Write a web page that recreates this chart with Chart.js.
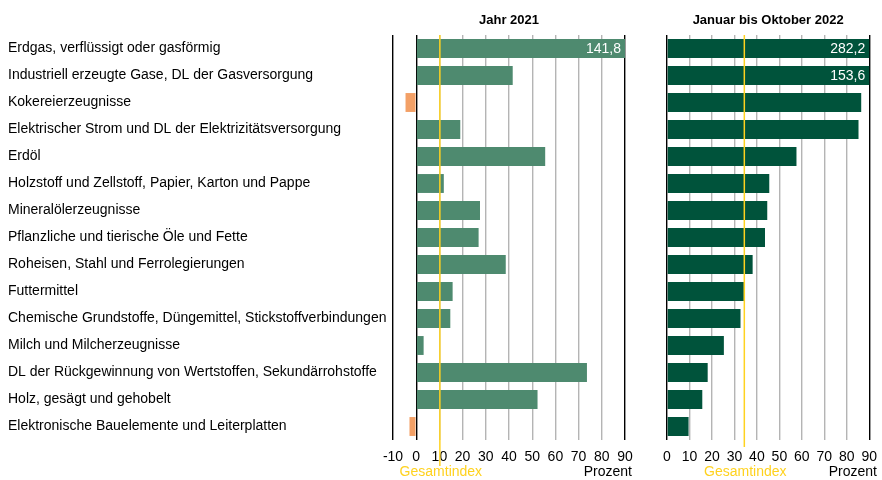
<!DOCTYPE html>
<html>
<head>
<meta charset="utf-8">
<script src="https://cdn.jsdelivr.net/npm/chart.js@4"></script>
<style>
  body { margin: 0; background: #fff; }
  #wrap { position: relative; width: 882px; height: 480px; }
  #left { position: absolute; left: 0; top: 0; }
  #right { position: absolute; left: 645px; top: 0; }
</style>
</head>
<body>
<div id="wrap">
  <canvas id="left" width="645" height="480"></canvas>
  <canvas id="right" width="237" height="480"></canvas>
</div>
<script>
const categories = [
  'Erdgas, verflüssigt oder gasförmig',
  'Industriell erzeugte Gase, DL der Gasversorgung',
  'Kokereierzeugnisse',
  'Elektrischer Strom und DL der Elektrizitätsversorgung',
  'Erdöl',
  'Holzstoff und Zellstoff, Papier, Karton und Pappe',
  'Mineralölerzeugnisse',
  'Pflanzliche und tierische Öle und Fette',
  'Roheisen, Stahl und Ferrolegierungen',
  'Futtermittel',
  'Chemische Grundstoffe, Düngemittel, Stickstoffverbindungen',
  'Milch und Milcherzeugnisse',
  'DL der Rückgewinnung von Wertstoffen, Sekundärrohstoffe',
  'Holz, gesägt und gehobelt',
  'Elektronische Bauelemente und Leiterplatten'
];
const jahr2021 = [141.8, 41.6, -4.6, 19.0, 55.6, 11.9, 27.5, 26.9, 38.6, 15.7, 14.7, 3.2, 73.6, 52.3, -2.9];
const janOkt2022 = [282.2, 153.6, 86.4, 85.2, 57.6, 45.5, 44.6, 43.6, 38.1, 34.2, 32.7, 25.3, 18.1, 15.7, 9.6];
const gesamt2021 = 10.2;
const gesamt2022 = 34.4;
const titles = ['Jahr 2021', 'Januar bis Oktober 2022'];

const FONT = 'Liberation Sans, Arial, sans-serif';
const YELLOW = '#ffd21f';

// titel, gesamtindex-linie, beschriftungen
const extras = {
  id: 'extras',
  afterDatasetsDraw(chart, args, opts) {
    const ctx = chart.ctx;
    const area = chart.chartArea;
    const x = chart.scales.x;
    const max = x.max;
    ctx.save();
    // werte über skalenende
    ctx.font = '14px ' + FONT;
    ctx.fillStyle = '#fff';
    ctx.textAlign = 'right';
    ctx.textBaseline = 'middle';
    const meta = chart.getDatasetMeta(0);
    chart.data.datasets[0].data.forEach((v, i) => {
      if (v > max) {
        const bar = meta.data[i];
        ctx.fillText(v.toFixed(1).replace('.', ','), area.right - 4, bar.y + 1);
      }
    });
    // gesamtindex
    const gx = x.getPixelForValue(opts.gesamt);
    ctx.strokeStyle = YELLOW;
    ctx.lineWidth = 1.5;
    ctx.beginPath();
    ctx.moveTo(gx, area.top);
    ctx.lineTo(gx, opts.lineEnd);
    ctx.stroke();
    ctx.font = '14px ' + FONT;
    ctx.textAlign = 'center';
    ctx.fillStyle = YELLOW;
    ctx.fillText('Gesamtindex', gx + 1, 472);
    ctx.fillStyle = '#000';
    ctx.textAlign = 'right';
    ctx.fillText('Prozent', opts.prozentX, 472);
    // titel
    ctx.font = 'bold 13px ' + FONT;
    ctx.textAlign = 'center';
    ctx.fillText(opts.title, (area.left + area.right) / 2, 20);
    ctx.restore();
  }
};

function gridColor(c) {
  const v = c.tick && c.tick.value;
  return (v === -10 || v === 0 || v === 90) ? '#000' : '#b4b4b4';
}

function makeChart(el, values, color, min, gesamt, title, lineEnd, prozentX, showLabels, padding) {
  return new Chart(document.getElementById(el), {
    type: 'bar',
    data: {
      labels: categories,
      datasets: [{
        data: values,
        backgroundColor: values.map(v => v < 0 ? '#f3a066' : color),
        borderWidth: 0,
        categoryPercentage: 1,
        barPercentage: 0.7
      }]
    },
    options: {
      indexAxis: 'y',
      responsive: false,
      animation: false,
      layout: { padding: padding },
      plugins: {
        legend: { display: false },
        tooltip: { enabled: false },
        extras: { gesamt: gesamt, title: title, lineEnd: lineEnd, prozentX: prozentX }
      },
      scales: {
        x: {
          min: min,
          max: 90,
          ticks: { stepSize: 10, autoSkip: false, color: '#000', font: { family: FONT, size: 14 }, padding: 9, maxRotation: 0 },
          grid: { color: gridColor, drawTicks: false, lineWidth: 1.4 },
          border: { display: false },
          afterFit(s) { s.height = 40; s.paddingLeft = 0; s.paddingRight = 0; }
        },
        y: {
          display: showLabels,
          grid: { display: false },
          border: { display: false },
          ticks: { crossAlign: 'far', color: '#000', font: { family: FONT, size: 14 }, padding: 0 },
          afterFit(s) { if (showLabels) s.width = 385; }
        }
      }
    },
    plugins: [extras]
  });
}

makeChart('left', jahr2021, '#4e8a6f', -10, gesamt2021, titles[0], 466, 632, true,
  { left: 8, top: 35, right: 20, bottom: 0 });
makeChart('right', janOkt2022, '#00533b', 0, gesamt2022, titles[1], 447, 232, false,
  { left: 22, top: 35, right: 12.7, bottom: 0 });
</script>
</body>
</html>
